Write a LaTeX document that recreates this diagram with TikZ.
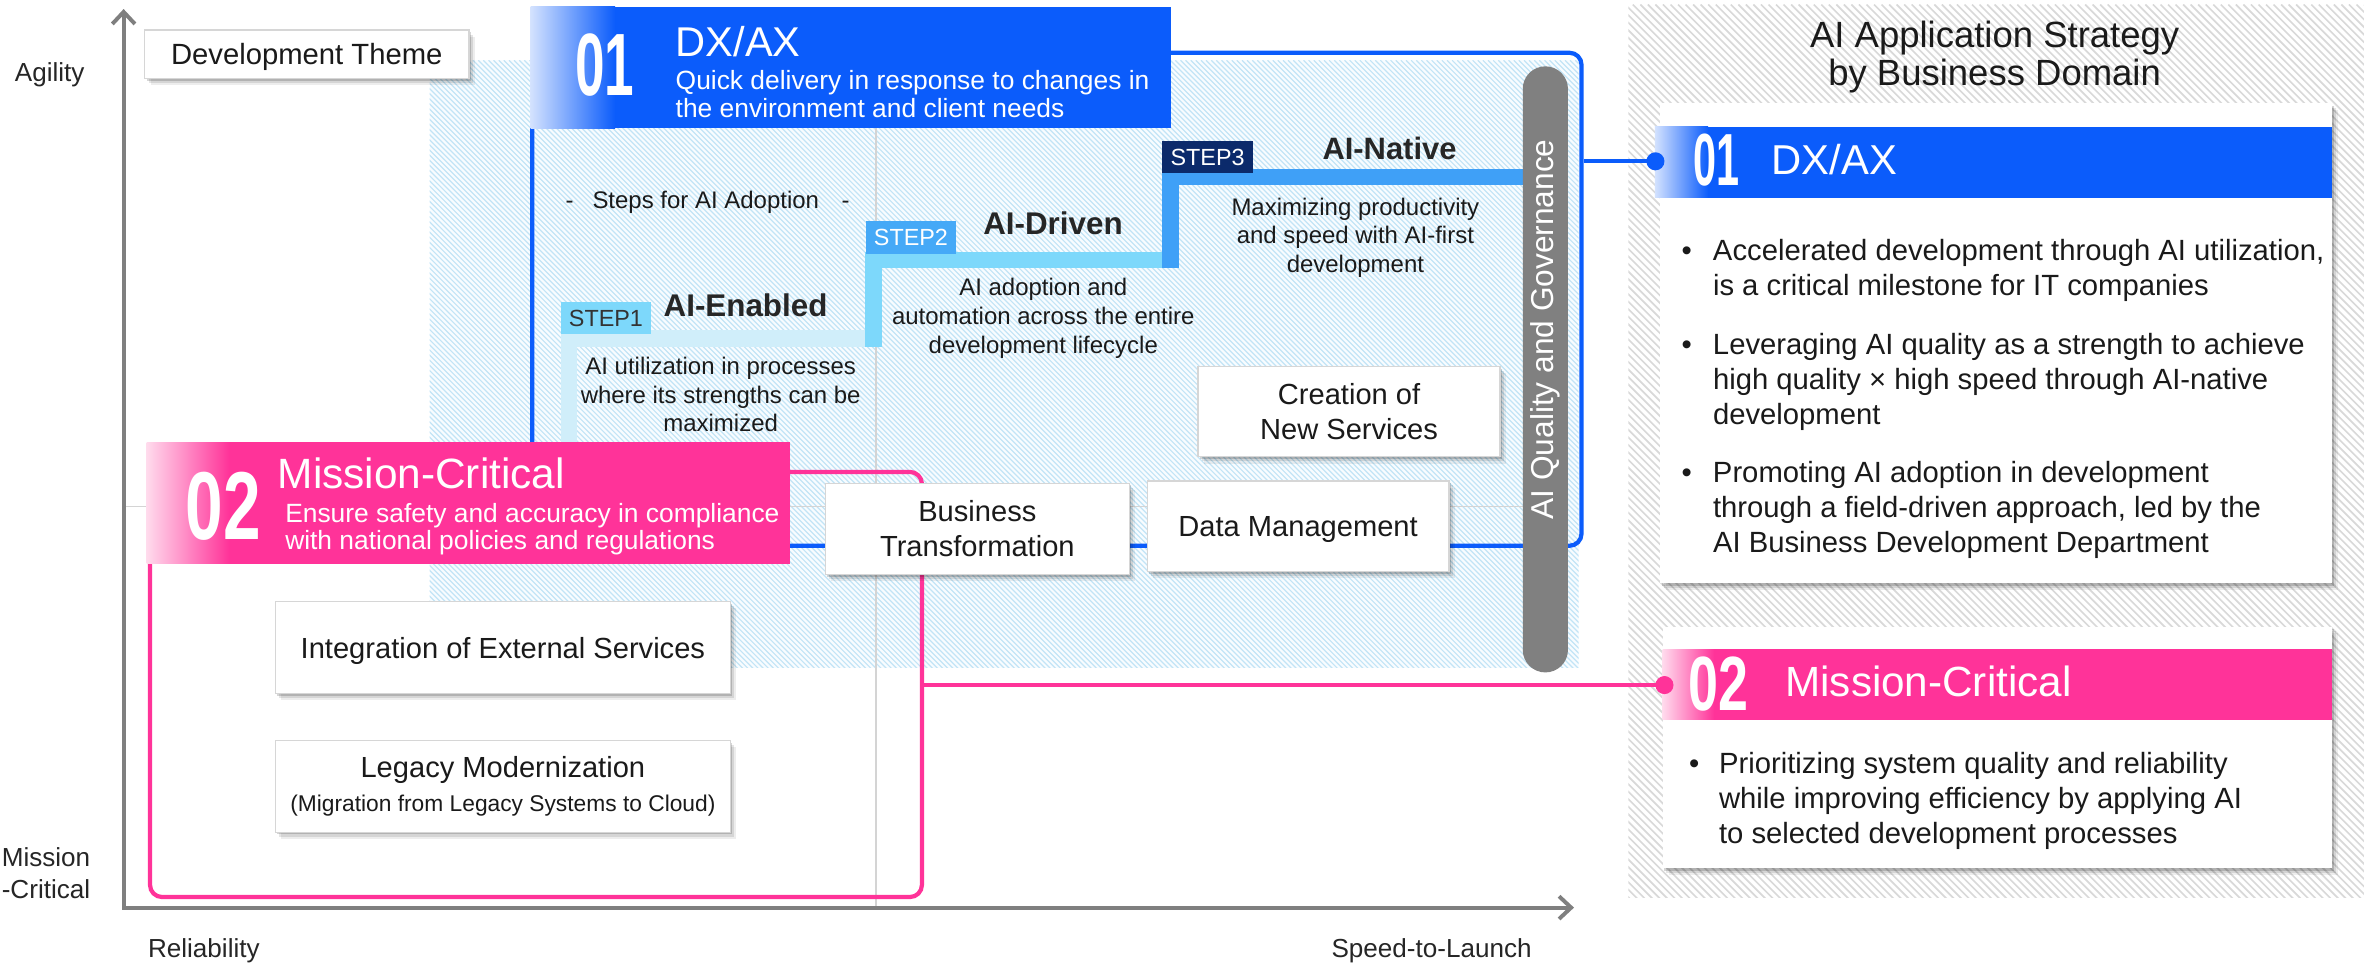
\documentclass[tikz,border=0pt]{standalone}
\usepackage{fontspec}
\usepackage{graphicx}
\setmainfont{Liberation Sans}
\usetikzlibrary{arrows.meta,shadows}

\definecolor{dxblue}{HTML}{0B5CFB}
\definecolor{mcpink}{HTML}{FF3399}
\definecolor{axisgray}{HTML}{7F7F7F}
\definecolor{govgray}{HTML}{808080}
\definecolor{gridgray}{HTML}{D4D4D4}
\definecolor{hatchblue}{HTML}{C2E4F6}
\definecolor{hatchbg}{HTML}{F8FCFF}
\definecolor{hatchgray}{HTML}{D9D9D9}
\definecolor{boxedge}{HTML}{D6D6D6}
\definecolor{stepone}{HTML}{7DD8FB}
\definecolor{steponebar}{HTML}{D0EEFA}
\definecolor{steptwo}{HTML}{45A9F7}
\definecolor{steptwobar}{HTML}{7DD8FB}
\definecolor{stepthree}{HTML}{0B2A6B}
\definecolor{stepthreebar}{HTML}{3FA0F7}
\definecolor{ink}{HTML}{1A1A1A}

\newcommand\setfs[2]{\fontsize{#1}{#2}\selectfont}
\newcommand\bignum[3]{\scalebox{#2}[1]{\fontsize{#1}{#1}\selectfont\bfseries #3}}

\tikzset{
  shadowed/.style={
    drop shadow={shadow xshift=1.2pt,shadow yshift=-1.5pt,opacity=.16,fill=black},
    drop shadow={shadow xshift=2.6pt,shadow yshift=-3pt,opacity=.10,fill=black},
    drop shadow={shadow xshift=4pt,shadow yshift=-4.5pt,opacity=.07,fill=black}},
  txt/.style={inner sep=0pt, text=ink},
  tbox/.style={shadowed, draw=boxedge, line width=0.9pt, fill=white, inner sep=0pt,
    align=center, text=ink, font=\setfs{19.3}{23.5}},
  stepbox/.style={minimum width=60pt, minimum height=21.5pt, inner sep=0pt,
    font=\setfs{15.5}{15.5}},
  steptitle/.style={txt, anchor=base west, font=\setfs{20.8}{21}\bfseries, text=black!85},
  stepdesc/.style={txt, anchor=north, align=center, font=\setfs{15.9}{19}},
  axislabel/.style={txt, font=\setfs{17.3}{20.7}, text=black!85},
  headband/.style={inner sep=0pt},
  card/.style={shadowed, fill=white, inner sep=0pt},
  bullets/.style={txt, anchor=north west, align=left, font=\setfs{19.4}{23}},
  dot/.style={circle, inner sep=0pt, minimum size=12pt}
}

\begin{document}
\begin{tikzpicture}[x=1pt,y=-1pt]
\useasboundingbox (0,0) rectangle (1568,639);

% hatched panel behind the strategy cards
\begin{scope}
  \clip (1080,3) rectangle (1568,595);
  \fill[white] (1080,3) rectangle (1568,595);
  \foreach \i in {0,...,218}
    \draw[hatchgray, line width=1.1pt] ({488+\i*5},3) -- ++(600,600);
\end{scope}

% hatched field of the quadrant
\begin{scope}
  \clip (285,40) rectangle (1047,443);
  \fill[hatchbg] (285,40) rectangle (1047,443);
  \foreach \i in {0,...,350}
    \draw[hatchblue, line width=0.8pt] ({-118+\i*3.4},40) -- ++(410,410);
\end{scope}

% quadrant guide lines
\draw[gridgray, line width=0.8pt] (581,60) -- (581,602);
\draw[gridgray, line width=0.8pt] (82,336) -- (1040,336);

% axes
\coordinate (origin) at (82,602);
\coordinate (ytop) at (82,6);
\coordinate (xend) at (1044,602);
\draw[axisgray, line width=2.6pt,
  {Straight Barb[length=8pt,width=15pt]}-{Straight Barb[length=8pt,width=15pt]}]
  (ytop) -- (origin) -- (xend);
\node[axislabel, anchor=base] (agility) at (33,54) {Agility};
\node[axislabel, anchor=north west, align=left] (mcaxis) at (1,562.3) {Mission\\-Critical};
\node[axislabel, anchor=base west] (reliab) at (98,635.3) {Reliability};
\node[axislabel, anchor=base west] (speed) at (883,635.3) {Speed-to-Launch};

% DX/AX frame
\node[draw=dxblue, line width=2.8pt, rounded corners=8pt, minimum width=696pt,
  minimum height=327pt, inner sep=0pt] (dxframe) at (701,198.5) {};

% adoption staircase
\fill[steponebar] (372,219) rectangle (585,230);
\fill[steponebar] (372,219) rectangle (383,300);
\fill[steptwobar] (574,167) rectangle (782,177.5);
\fill[steptwobar] (574,167) rectangle (585,230);
\fill[stepthreebar] (771,112.3) rectangle (1010,122.7);
\fill[stepthreebar] (771,112.3) rectangle (782,177.5);

% governance bar
\node[fill=govgray, rounded corners=15pt, minimum width=30pt, minimum height=402pt,
  inner sep=0pt] (gov) at (1025,245) {};
\node[rotate=90, inner sep=0pt, text=white, font=\setfs{21}{21}] (govtext)
  at (1025,218.5) {AI Quality and Governance};

% mission-critical frame
\node[draw=mcpink, line width=2.8pt, rounded corners=8pt, minimum width=512pt,
  minimum height=282pt, inner sep=0pt] (mcframe) at (355.5,454) {};

% DX/AX header
\node[headband, fill=dxblue, minimum width=425pt, minimum height=80.5pt] (dxhead)
  at (564.5,44.75) {};
\shade[left color=white!82!dxblue, right color=dxblue] (352,4.5) rectangle (408,85);
\node[inner sep=0pt, text=white] (dxnum) at (401,43) {\bignum{58.7}{0.6}{01}};
\node[inner sep=0pt, anchor=base west, text=white, font=\setfs{27.6}{28}] (dxtitle)
  at (448,37.5) {DX/AX};
\node[inner sep=0pt, anchor=north west, align=left, text=white, font=\setfs{17.5}{18.2}]
  (dxsub) at (448,46.6) {Quick delivery in response to changes in\\the environment and client needs};

% steps
\node[txt, anchor=base west, font=\setfs{15.9}{19}] (stepshead) at (375,138.2)
  {-\hspace{12.5pt}Steps for AI Adoption\hspace{15pt}-};
\node[stepbox, fill=stepone, text=black!80] (s1) at (401.9,211) {STEP1};
\node[stepbox, fill=steptwo, text=white] (s2) at (604.2,157.5) {STEP2};
\node[stepbox, fill=stepthree, text=white] (s3) at (801,104.2) {STEP3};
\node[steptitle] (t1) at (440,210) {AI-Enabled};
\node[steptitle] (t2) at (652,155.5) {AI-Driven};
\node[steptitle, font=\setfs{20.5}{21}\bfseries] (t3) at (877,105.7) {AI-Native};
\node[stepdesc] (d1) at (478,236.6) {AI utilization in processes\\where its strengths can be\\maximized};
\node[stepdesc] (d2) at (692,184.6) {AI adoption and\\automation across the entire\\development lifecycle};
\node[stepdesc] (d3) at (899,131) {Maximizing productivity\\and speed with AI-first\\development};

% development themes
\node[tbox, font=\setfs{19.4}{23}, text depth=0pt, minimum width=215pt, minimum height=32pt]
  (theme) at (203.5,36) {Development Theme};
\node[tbox, minimum width=200.4pt, minimum height=60pt] (newsvc) at (894.8,273)
  {Creation of\\New Services};
\node[tbox, minimum width=201.5pt, minimum height=60.5pt] (bizx) at (648.25,350.75)
  {Business\\Transformation};
\node[tbox, text depth=0pt, minimum width=200pt, minimum height=60pt] (datamgmt)
  at (861,349) {Data Management};
\node[tbox, text depth=0pt, minimum width=301.7pt, minimum height=61pt] (extsvc)
  at (333.55,429.5) {Integration of External Services};
\node[tbox, font=\setfs{19.3}{22}, minimum width=301.7pt, minimum height=61pt] (legacy)
  at (333.55,521.5)
  {Legacy Modernization\\{\setfs{15.1}{18}(Migration from Legacy Systems to Cloud)}};

% mission-critical header
\node[headband, fill=mcpink, minimum width=426.4pt, minimum height=80.5pt] (mchead)
  at (310.5,333.75) {};
\shade[left color=white!82!mcpink, right color=mcpink] (97.3,293.5) rectangle (152,374);
\node[inner sep=0pt, text=white] (mcnum) at (148,336) {\bignum{64}{0.7}{02}};
\node[inner sep=0pt, anchor=base west, text=white, font=\setfs{28.1}{28}] (mctitle)
  at (184,324) {Mission-Critical};
\node[inner sep=0pt, anchor=north west, align=left, text=white, font=\setfs{17.5}{17.9}]
  (mcsub) at (189,333.8) {Ensure safety and accuracy in compliance\\with national policies and regulations};

% strategy panel
\node[txt, anchor=north, align=center, font=\setfs{24.2}{25.5}] (title) at (1323,13.6)
  {AI Application Strategy\\by Business Domain};

\node[card, minimum width=446pt, minimum height=318.5pt] (card1) at (1324,227.75) {};
\node[headband, fill=dxblue, minimum width=449.3pt, minimum height=47pt] (head1)
  at (1322.35,107.5) {};
\shade[left color=white!82!dxblue, right color=dxblue] (1097.7,84) rectangle (1133,131);
\node[dot, fill=dxblue] (dxdot) at (1098,107) {};
\node[inner sep=0pt, text=white] (num1) at (1138.3,106.5) {\bignum{49}{0.56}{01}};
\node[inner sep=0pt, anchor=base west, text=white, font=\setfs{27.7}{28}] (name1)
  at (1175,115.5) {DX/AX};
\node[bullets] (b11) at (1136,158.6)
  {\llap{\textbullet\hspace{14pt}}Accelerated development through AI utilization,\\is a critical milestone for IT companies};
\node[bullets] (b12) at (1136,221)
  {\llap{\textbullet\hspace{14pt}}Leveraging AI quality as a strength to achieve\\high quality \texttimes{} high speed through AI-native\\development};
\node[bullets] (b13) at (1136,306)
  {\llap{\textbullet\hspace{14pt}}Promoting AI adoption in development\\through a field-driven approach, led by the\\AI Business Development Department};

\node[card, minimum width=444.3pt, minimum height=160.4pt] (card2) at (1324.85,495.8) {};
\node[headband, fill=mcpink, minimum width=444.3pt, minimum height=47pt] (head2)
  at (1324.85,454) {};
\shade[left color=white!82!mcpink, right color=mcpink] (1102.7,430.5) rectangle (1137,477.5);
\node[dot, fill=mcpink] (mcdot) at (1104,454.4) {};
\node[inner sep=0pt, text=white] (num2) at (1140,453.8) {\bignum{51}{0.7}{02}};
\node[inner sep=0pt, anchor=base west, text=white, font=\setfs{28}{28}] (name2)
  at (1184,462) {Mission-Critical};
\node[bullets, font=\setfs{19.4}{23.2}] (b21) at (1140,498.6)
  {\llap{\textbullet\hspace{13pt}}Prioritizing system quality and reliability\\while improving efficiency by applying AI\\to selected development processes};

% links from the quadrant frames to the strategy cards
\draw[dxblue, line width=2.6pt] (dxdot -| dxframe.east) -- (dxdot.center);
\draw[mcpink, line width=2.8pt] (mcdot -| mcframe.east) -- (mcdot.center);
\end{tikzpicture}
\end{document}
